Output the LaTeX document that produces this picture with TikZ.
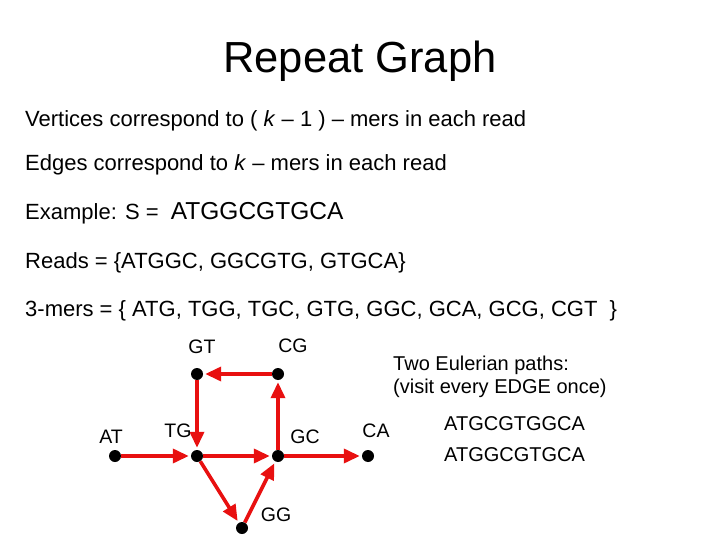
\documentclass[tikz,border=0pt]{standalone}
\usepackage{fontspec}
\setmainfont{Liberation Sans}
\usetikzlibrary{arrows.meta,backgrounds}
\definecolor{edgered}{RGB}{232,16,16}
\begin{document}
\begin{tikzpicture}[x=1pt,y=-1pt,
  body/.style={anchor=base west,inner sep=0pt,font=\fontsize{22}{26}\selectfont},
  lbl/.style={inner sep=0pt,font=\fontsize{19.5}{23}\selectfont},
  vtx/.style={circle,fill=black,minimum size=12pt,inner sep=0pt},
  edg/.style={draw=edgered,line width=3.6pt,-{Triangle[length=16pt,width=14pt]},shorten >=2pt,shorten <=0pt}]
\useasboundingbox (0,0) rectangle (720,540);
\node[inner sep=0pt,anchor=base,font=\fontsize{43.5}{48}\selectfont] (title) at (360,73) {Repeat Graph};
\node[body] (l1) at (25,127) {Vertices correspond to ( \textit{k} – 1 ) – mers in each read};
\node[body] (l2) at (25,171) {Edges correspond to \textit{k} – mers in each read};
\node[body] (l3) at (25,219) {Example: S = \ {\fontsize{24.5}{28}\selectfont ATGGCGTGCA}};
\node[body] (l4) at (25,268) {Reads = \{ATGGC, GGCGTG, GTGCA\}};
\node[body] (l5) at (25,316) {3-mers = \{ ATG, TGG, TGC, GTG, GGC, GCA, GCG, CGT \ \}};
% vertices
\node[vtx] (AT) at (115,456) {};
\node[vtx] (TG) at (197,456) {};
\node[vtx] (GC) at (278,456) {};
\node[vtx] (CA) at (368,456) {};
\node[vtx] (GT) at (197,374) {};
\node[vtx] (CG) at (278,374) {};
\node[vtx] (GG) at (242,528) {};
% labels
\node[lbl] (lGT) at (202,347) {GT};
\node[lbl] (lCG) at (293,346) {CG};
\node[lbl] (lAT) at (111,437) {AT};
\node[lbl] (lTG) at (178,431) {TG};
\node[lbl] (lGC) at (305,437) {GC};
\node[lbl] (lCA) at (376,431) {CA};
\node[lbl] (lGG) at (276,515) {GG};
% edges
\begin{scope}[on background layer]
\draw[edg] (AT) -- (TG);
\draw[edg] (TG) -- (GC);
\draw[edg] (GC) -- (CA);
\draw[edg] (GC) -- (CG);
\draw[edg] (CG) -- (GT);
\draw[edg] (GT) -- (TG);
\draw[edg] (TG) -- (GG);
\draw[edg] (GG) -- (GC);
\end{scope}
% right text
\node[anchor=north west,inner sep=0pt,align=left,font=\fontsize{20}{23}\selectfont] (eul) at (393,356) {Two Eulerian paths:\\(visit every EDGE once)};
\node[anchor=north west,inner sep=0pt,align=left,font=\fontsize{20}{31}\selectfont] (paths) at (444,416) {ATGCGTGGCA\\ATGGCGTGCA};
\end{tikzpicture}
\end{document}
